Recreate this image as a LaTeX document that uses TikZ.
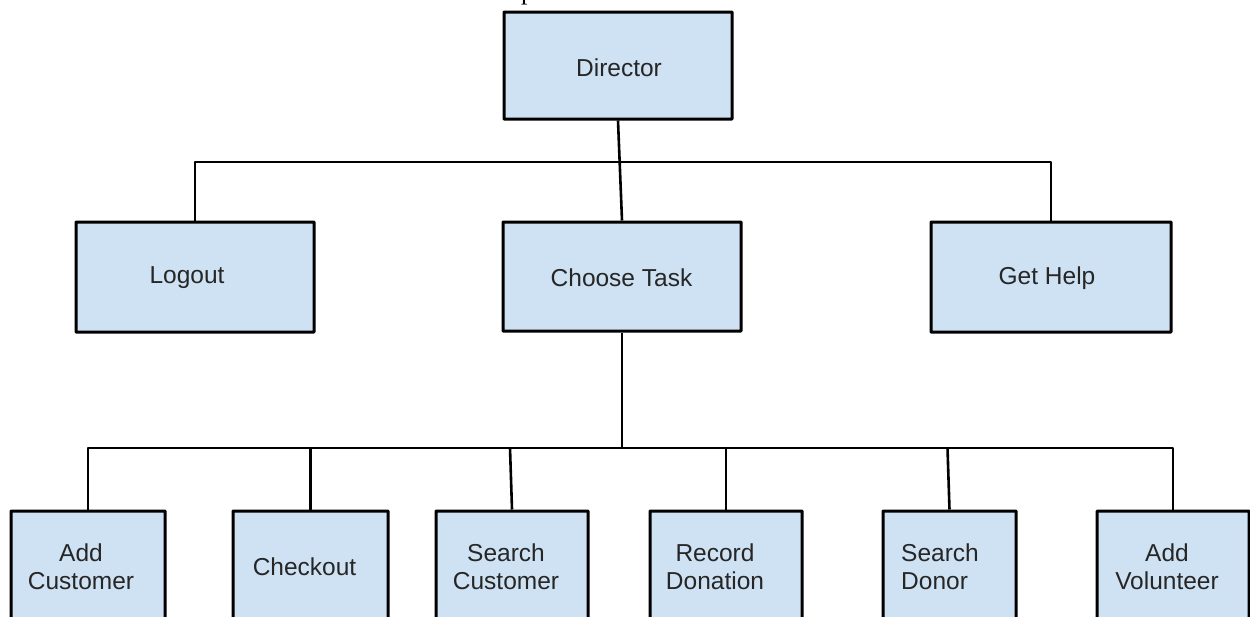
\documentclass[tikz,border=0pt]{standalone}
\usepackage{fontspec}
\setmainfont{Liberation Sans}
\newfontfamily\serifcut{Liberation Serif}
\usetikzlibrary{calc}
\definecolor{boxfill}{HTML}{CFE2F3}
\definecolor{inktext}{HTML}{262626}
\begin{document}
\begin{tikzpicture}[x=1pt,y=-1pt,
  box/.style={draw=black,fill=boxfill,line width=3pt,rounded corners=0.6pt,
    minimum width=#1,inner sep=0pt},
  box/.default=238,
  lbl/.style={text=inktext,font=\fontsize{24.5}{28}\selectfont,align=center,inner sep=0pt},
  link/.style={draw=black,line width=2.6pt,line join=round}]
\useasboundingbox (0,0) rectangle (1250,616);
\clip (0,0) rectangle (1250,616);

% tail of a line of text running above the chart
\node[anchor=base west,inner sep=0pt,font=\serifcut\fontsize{26}{30}\selectfont] (cut) at (521,-1) {p};

% top level
\node[box=228,minimum height=107] (dir) at (618,65.5) {};
\node[lbl] (dirT) at (619,68) {Director};

% second level
\node[box=238,minimum height=110] (lo) at (195,277) {};
\node[lbl] (loT) at (187,278) {Logout};
\node[box=238,minimum height=109] (ct) at (622,276.5) {};
\node[lbl] (ctT) at (621.5,278) {Choose Task};
\node[box=240,minimum height=110] (gh) at (1051,277) {};
\node[lbl] (ghT) at (1047,278) {Get Help};

% third level
\node[box=154,minimum height=110] (ac) at (88,566) {};
\node[lbl] (acT) at (81,567) {Add\\Customer};
\node[box=155,minimum height=110] (ck) at (310.5,566) {};
\node[lbl] (ckT) at (304.5,567) {Checkout};
\node[box=152,minimum height=110] (sc) at (512,566) {};
\node[lbl] (scT) at (506,567) {Search\\Customer};
\node[box=152,minimum height=110] (rd) at (726,566) {};
\node[lbl] (rdT) at (715,567) {Record\\Donation};
\node[box=133,minimum height=110] (sd) at (949.5,566) {};
\node[lbl,align=left] (sdT) at (940,567) {Search\\Donor};
\node[box=152,minimum height=110] (av) at (1173,566) {};
\node[lbl] (avT) at (1167,567) {Add\\Volunteer};

% buses
\coordinate (busA) at (620,162);
\coordinate (busB) at (625,448);

% links from Director
\draw[link] (dir.south) -- (ct.north);
\draw[link] (lo.north) -- (lo.north |- busA) -- (gh.north |- busA) -- (gh.north);

% links from Choose Task
\draw[link] (ct.south) -- (ct.south |- busB);
\draw[link] (ac.north) -- (ac.north |- busB) -- (av.north |- busB) -- (av.north);
\draw[link] (ck.north) -- (ck.north |- busB);
\draw[link] (sc.north) -- ([xshift=-2pt]sc.north |- busB);
\draw[link] (rd.north) -- (rd.north |- busB);
\draw[link] (sd.north) -- ([xshift=-2pt]sd.north |- busB);
\end{tikzpicture}
\end{document}
